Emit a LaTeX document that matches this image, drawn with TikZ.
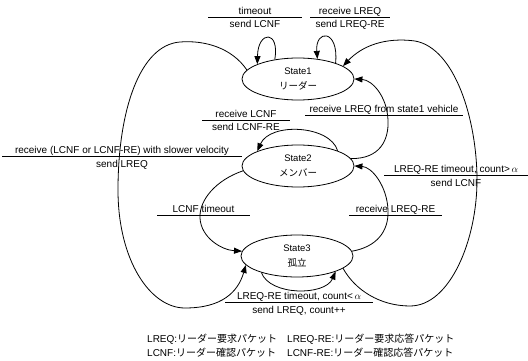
\documentclass[tikz,border=0pt]{standalone}
\usepackage{fontspec}
\setmainfont{Liberation Sans}
\newfontfamily\jp{Noto Sans CJK JP}
\usetikzlibrary{shapes.geometric,arrows.meta}
\newcommand{\twolabel}[6]{%
  \draw[lblline] (#2,#4) -- (#3,#4);
  \node[lbl] (#1top) at ({(#2+#3)/2},#4-2.5) {#5};
  \node[lbl] (#1bot) at ({(#2+#3)/2},#4+11) {#6};
}
\newcommand{\onelabel}[5]{%
  \draw[lblline] (#2,#4) -- (#3,#4);
  \node[lbl] (#1top) at ({(#2+#3)/2},#4-2.5) {#5};
}
\begin{document}
\begin{tikzpicture}[x=1pt,y=-1pt,
  state/.style={ellipse, draw, line width=0.8pt, minimum width=112pt, minimum height=42pt,
    inner sep=0pt, align=center, font=\fontsize{9.5}{14.5}\selectfont},
  conn/.style={line width=0.8pt, -{Triangle[length=8pt,width=6pt]}},
  lblline/.style={line width=0.75pt},
  lbl/.style={font=\fontsize{10}{12}\selectfont, inner sep=0pt, anchor=base},
  legend/.style={font=\fontsize{10}{12}\selectfont, inner sep=0pt, anchor=base west},
]
\useasboundingbox (0,0) rectangle (528,361);

\node[state] (s1) at (298,79) {State1\\{\jp リーダー}};
\node[state] (s2) at (298,166) {State2\\{\jp メンバー}};
\node[state] (s3) at (297,256) {State3\\{\jp 孤立}};

% self loops on State1
\draw[conn] (s1.140) .. controls (280,30) and (258,30) .. (s1.160);
\draw[conn] (s1.23) .. controls (339,29) and (315,29) .. (s1.46);

% State3 -> State1 (big right arc)
\draw[conn] (s3.-15) .. controls (355,290) and (380,306) .. (410,306)
  .. controls (450,306) and (477,240) .. (477,180)
  .. controls (477,120) and (455,48) .. (415,41)
  .. controls (385,37) and (362,46) .. (s1.16);

% State1 -> State3 (big left arc)
\draw[conn] (s1.170) .. controls (232,48) and (205,40) .. (180,42)
  .. controls (140,45) and (118,110) .. (118,190)
  .. controls (118,260) and (150,308) .. (185,308)
  .. controls (222,308) and (238,292) .. (s3.190);

% State2 self loop
\draw[conn] (s2.21) .. controls (330,125) and (270,122) .. (s2.160);

% State2 -> State1
\draw[conn] (s2.8) .. controls (380,159) and (389,140) .. (388,120)
  .. controls (387,96) and (372,80) .. (s1.east);

% State3 -> State2
\draw[conn] (s3.5) .. controls (376,247) and (389,232) .. (388,210)
  .. controls (387,186) and (372,167) .. (s2.east);

% State2 -> State3
\draw[conn] (s2.185) .. controls (216,180) and (199,200) .. (200,218)
  .. controls (201,238) and (222,250) .. (s3.175);

% State3 self loop
\draw[conn] (s3.205) .. controls (270,296) and (325,296) .. (s3.-22);

% labels
\twolabel{la}{208}{302}{17}{timeout}{send LCNF}
\twolabel{lb}{310}{390}{17}{receive LREQ}{send LREQ-RE}
\twolabel{lc}{202}{290}{120}{receive LCNF}{send LCNF-RE}
\onelabel{ld}{305}{463}{115}{receive LREQ from state1 vehicle}
\twolabel{le}{2}{242}{156}{receive (LCNF or LCNF-RE) with slower velocity}{send LREQ}
\twolabel{lf}{384}{528}{175}{LREQ-RE timeout, count>\,$\alpha$}{send LCNF}
\onelabel{lg}{349}{442}{215}{receive LREQ-RE}
\onelabel{lh}{157}{250}{215}{LCNF timeout}
\twolabel{li}{225}{373}{302}{LREQ-RE timeout, count<\,$\alpha$}{send LREQ, count++}

% legend
\node[legend] (leg1) at (147,342) {LREQ:{\jp リーダー要求パケット}};
\node[legend] (leg2) at (287,342) {LREQ-RE:{\jp リーダー要求応答パケット}};
\node[legend] (leg3) at (147,356) {LCNF:{\jp リーダー確認パケット}};
\node[legend] (leg4) at (287,356) {LCNF-RE:{\jp リーダー確認応答パケット}};
\end{tikzpicture}
\end{document}
